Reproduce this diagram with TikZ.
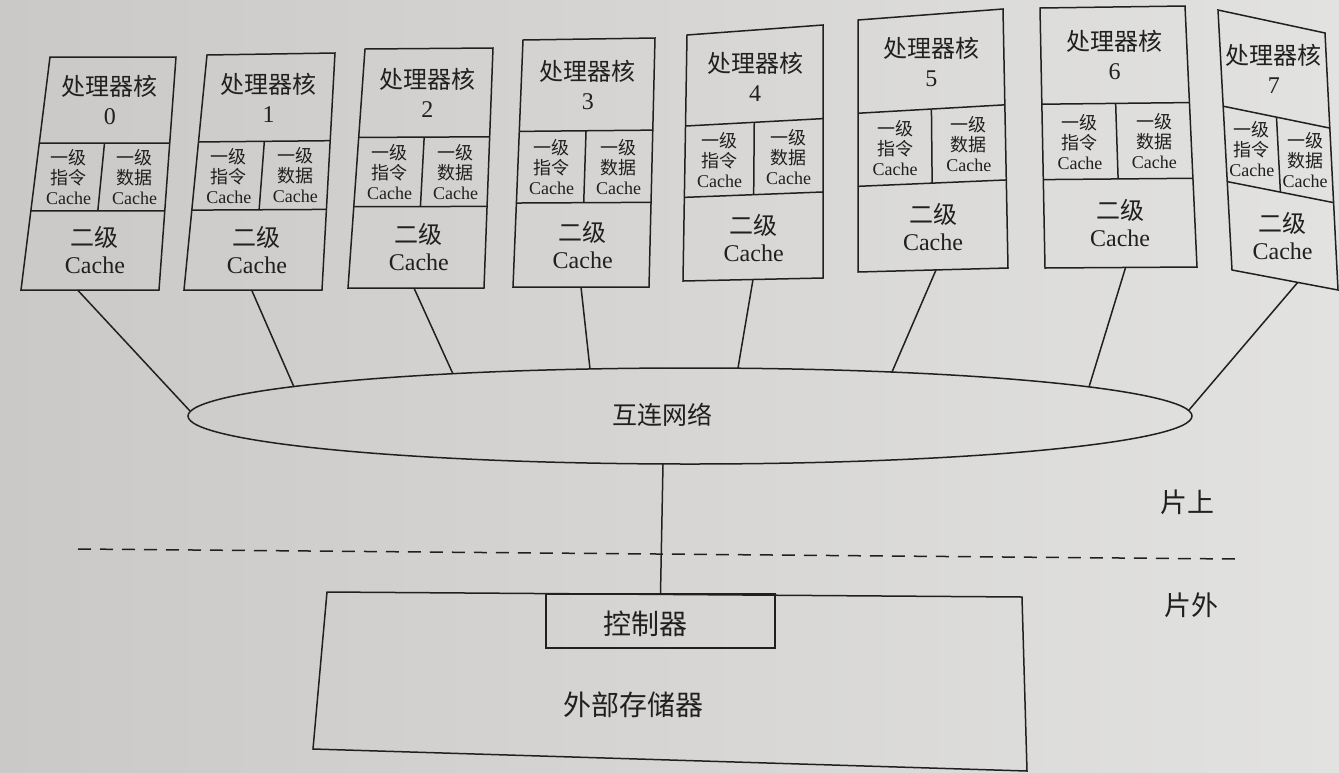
\documentclass[tikz,border=0pt]{standalone}
\usepackage{fontspec}
\setmainfont{Liberation Serif}
\newfontfamily\cjk{Noto Sans CJK SC}
\usetikzlibrary{shapes.geometric,calc}
\definecolor{ink}{RGB}{32,32,32}
\definecolor{paperL}{RGB}{203,201,199}
\definecolor{paperR}{RGB}{226,226,224}
\tikzset{
  ln/.style={draw=ink,line width=1.5pt},
  coretxt/.style={text=ink,align=center,inner sep=0pt,font=\fontsize{24}{29}\selectfont},
  lonetxt/.style={text=ink,align=center,inner sep=0pt,font=\fontsize{18}{20}\selectfont},
  ltwotxt/.style={text=ink,align=center,inner sep=0pt,font=\fontsize{24}{27}\selectfont},
  bigtxt/.style={text=ink,inner sep=0pt,font=\cjk\fontsize{27}{27}\selectfont},
}
\newcommand\corebox[7]{%
  \coordinate (#1tl) at #3; \coordinate (#1tr) at #4;
  \coordinate (#1br) at #5; \coordinate (#1bl) at #6;
  \coordinate (#1a) at ($(#1tl)!0.37!(#1bl)$);
  \coordinate (#1b) at ($(#1tr)!0.37!(#1br)$);
  \coordinate (#1c) at ($(#1tl)!0.66!(#1bl)$);
  \coordinate (#1d) at ($(#1tr)!0.66!(#1br)$);
  \coordinate (#1m) at ($(#1a)!0.5!(#1b)$);
  \coordinate (#1n) at ($(#1c)!0.5!(#1d)$);
  \coordinate (#1p) at ($(#1bl)!#7!(#1br)$);
  \draw[ln] (#1tl)--(#1tr)--(#1br)--(#1bl)--cycle;
  \draw[ln] (#1a)--(#1b) (#1c)--(#1d) (#1m)--(#1n);
  \node[coretxt] (#1core) at ($(#1tl)!0.5!(#1b)$) {{\cjk 处理器核}\\#2};
  \node[lonetxt] (#1ic) at ($(#1a)!0.5!(#1n)$) {{\cjk 一级}\\{\cjk 指令}\\Cache};
  \node[lonetxt] (#1dc) at ($(#1m)!0.5!(#1d)$) {{\cjk 一级}\\{\cjk 数据}\\Cache};
  \node[ltwotxt] (#1ltwo) at ($(#1c)!0.5!(#1br)$) {{\cjk 二级}\\Cache};
}
\begin{document}
\begin{tikzpicture}[x=1pt,y=-1pt]
\useasboundingbox (0,0) rectangle (1339,772);
\shade[left color=paperL,right color=paperR] (0,0) rectangle (1339,772);

\corebox{cA}{0}{(50,57)}{(176,57)}{(159,290)}{(21,290)}{0.41}
\corebox{cB}{1}{(207,55)}{(335,53)}{(322,290)}{(184,290)}{0.49}
\corebox{cC}{2}{(365,49)}{(493,48)}{(484,288)}{(348,288)}{0.485}
\corebox{cD}{3}{(523,40)}{(655,38)}{(649,287)}{(513,287)}{0.5}
\corebox{cE}{4}{(687,35)}{(823,25)}{(823,278)}{(683,281)}{0.5}
\corebox{cF}{5}{(858,20)}{(1003,9)}{(1008,268)}{(858,272)}{0.52}
\corebox{cG}{6}{(1040,8)}{(1185,6)}{(1197,267)}{(1045,268)}{0.53}
\corebox{cH}{7}{(1218,10)}{(1325,33)}{(1338,290)}{(1232,270)}{0.62}

\node[ln,ellipse,minimum width=1004pt,minimum height=96pt,inner sep=0pt,outer sep=0pt] (net) at (690,416) {};
\node[bigtxt,font=\cjk\fontsize{25}{25}\selectfont] (netlbl) at (662,415) {互连网络};

\coordinate (eA) at (190,411);
\coordinate (eB) at (294,387);
\coordinate (eC) at (453,374);
\coordinate (eD) at (590,369);
\coordinate (eE) at (738,368);
\coordinate (eF) at (892,372);
\coordinate (eG) at (1089,387);
\coordinate (eH) at (1189,410);
\coordinate (eS) at (663,464);

\draw[ln] (cAp) -- (eA);
\draw[ln] (cBp) -- (eB);
\draw[ln] (cCp) -- (eC);
\draw[ln] (cDp) -- (eD);
\draw[ln] (cEp) -- (eE);
\draw[ln] (cFp) -- (eF);
\draw[ln] (cGp) -- (eG);
\draw[ln] (cHp) -- (eH);

\coordinate (memtl) at (327,592);
\coordinate (memtr) at (1022,597);
\coordinate (membr) at (1027,771);
\coordinate (membl) at (313,749);
\draw[ln] (memtl)--(memtr)--(membr)--(membl)--cycle;
\node[ln,minimum width=229pt,minimum height=54pt,inner sep=0pt,outer sep=0pt] (ctrl) at (660.5,621) {};
\node[bigtxt,font=\cjk\fontsize{28}{28}\selectfont] (ctrllbl) at (645,624) {控制器};
\node[bigtxt,font=\cjk\fontsize{28}{28}\selectfont] (mem) at (633,705) {外部存储器};

\draw[ln] (eS) -- (ctrl.north);

\coordinate (dl) at (78,549);
\coordinate (dr) at (1236,559);
\draw[ln,dash pattern=on 13pt off 9pt] (dl) -- (dr);

\node[bigtxt] (on) at (1187,502) {片上};
\node[bigtxt] (off) at (1191,605) {片外};
\end{tikzpicture}
\end{document}
